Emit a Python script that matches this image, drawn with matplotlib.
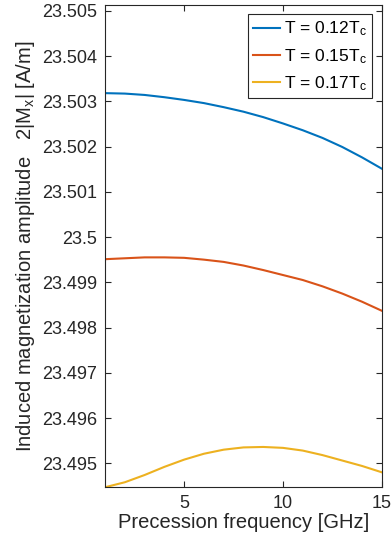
import numpy as np
import matplotlib
matplotlib.use("Agg")
import matplotlib.pyplot as plt
from matplotlib.ticker import FuncFormatter

# --- DATA ---
freq = [1, 2, 3, 4, 5, 6, 7, 8, 9, 10, 11, 12, 13, 14, 15]
amp_012 = [23.50318, 23.50317, 23.50314, 23.50309, 23.50303, 23.50296, 23.50287, 23.50277,
           23.50265, 23.50251, 23.50236, 23.50219, 23.50199, 23.50176, 23.50151]
amp_015 = [23.49951, 23.49953, 23.49955, 23.49955, 23.49954, 23.49950, 23.49945, 23.49937,
           23.49927, 23.49916, 23.49905, 23.49891, 23.49875, 23.49857, 23.49837]
amp_017 = [23.49447, 23.49458, 23.49474, 23.49492, 23.49508, 23.49521, 23.49530, 23.49535,
           23.49536, 23.49534, 23.49528, 23.49518, 23.49506, 23.49494, 23.49480]
labels = ['T = 0.12T$_\\mathrm{c}$', 'T = 0.15T$_\\mathrm{c}$', 'T = 0.17T$_\\mathrm{c}$']
x_ticks = [5, 10, 15]
y_ticks = [23.495, 23.496, 23.497, 23.498, 23.499, 23.5, 23.501, 23.502, 23.503, 23.504, 23.505]

plt.rcParams['font.family'] = ['Liberation Sans', 'DejaVu Sans']
plt.rcParams['mathtext.fontset'] = 'custom'
plt.rcParams['mathtext.rm'] = 'Liberation Sans'
plt.rcParams['mathtext.it'] = 'Liberation Sans'

colors = ['#0072BD', '#D95319', '#EDB120']
dark = '#262626'

fig = plt.figure(figsize=(3.92, 5.45), dpi=100)
ax = fig.add_axes([0.268, 0.106, 0.706, 0.885])

for y, lab, c in zip([amp_012, amp_015, amp_017], labels, colors):
    ax.plot(freq, y, color=c, lw=1.5, label=lab)

ax.set_xlim(1, 15)
ax.set_ylim(23.49447, 23.50513)
ax.set_xticks(x_ticks)
ax.set_yticks(y_ticks)
ax.yaxis.set_major_formatter(FuncFormatter(lambda v, p: f'{v:g}'))
ax.tick_params(direction='in', top=True, right=True, length=4, width=0.8,
               labelsize=13, colors=dark, pad=5.5)
for s in ax.spines.values():
    s.set_color(dark)
    s.set_linewidth(0.8)

ax.set_xlabel('Precession frequency [GHz]', fontsize=14.5, color=dark, labelpad=1)
ax.set_ylabel('Induced magnetization amplitude   2|M$_\\mathrm{x}$| [A/m]',
              fontsize=14.5, color=dark, labelpad=4)

leg = ax.legend(loc='upper right', fontsize=12.5, fancybox=False, framealpha=1,
                edgecolor=dark, handlelength=1.55, handletextpad=0.25,
                borderaxespad=0.55, labelspacing=0.5, borderpad=0.3)
leg.get_frame().set_linewidth(0.8)

fig.savefig('out.png', dpi=100)
